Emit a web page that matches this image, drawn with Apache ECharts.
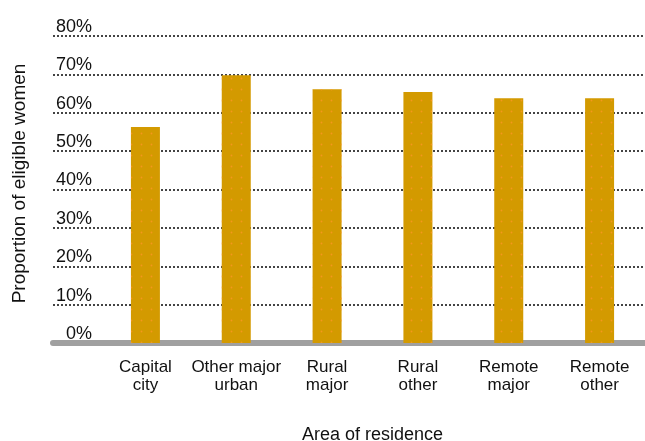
<!DOCTYPE html>
<html>
<head>
<meta charset="utf-8">
<script src="https://cdn.jsdelivr.net/npm/echarts@6/dist/echarts.min.js"></script>
<style>
  html, body { margin: 0; padding: 0; background: #fff; }
  #chart { width: 645px; height: 441px; }
</style>
</head>
<body>
<div id="chart"></div>
<script>
// Share of eligible women by area of residence
const categories = ['Capital\ncity', 'Other major\nurban', 'Rural\nmajor', 'Rural\nother', 'Remote\nmajor', 'Remote\nother'];
const proportions = [56.3, 69.8, 66.1, 65.4, 63.8, 63.8];
const yMin = 0, yMax = 80, yStep = 10;

const font = 'Liberation Sans, Arial, sans-serif';
const ink = '#111';

const chart = echarts.init(document.getElementById('chart'), null, { renderer: 'canvas' });

chart.setOption({
  animation: false,
  backgroundColor: '#fff',
  title: {
    text: 'Area of residence',
    left: 297,
    top: 421,
    textStyle: { fontFamily: font, fontSize: 18, fontWeight: 'normal', color: ink }
  },
  grid: [
    // frame: dotted gridlines + thick base line
    { left: 53, right: 0, top: 36, bottom: 98 },
    // bars and labels
    { left: 100, width: 547, top: 36, bottom: 98 }
  ],
  xAxis: [
    {
      gridIndex: 0, type: 'value', min: 0, max: 1,
      axisLine: { show: true, onZero: false, lineStyle: { color: '#a0a0a0', width: 6 } },
      axisTick: { show: false }, axisLabel: { show: false }, splitLine: { show: false }
    },
    {
      gridIndex: 1, type: 'category', data: categories,
      axisLine: { show: false }, axisTick: { show: false },
      axisLabel: {
        margin: 15, fontFamily: font, fontSize: 17, lineHeight: 18, color: ink,
        interval: 0, align: 'center'
      }
    }
  ],
  yAxis: [
    {
      gridIndex: 0, type: 'value', min: yMin, max: yMax, interval: yStep,
      name: 'Proportion of eligible women',
      nameLocation: 'middle', nameGap: 24, nameRotate: 90,
      nameTextStyle: { fontFamily: font, fontSize: 19, color: ink, padding: [0, 0, 0, 12] },
      axisLine: { show: false }, axisTick: { show: false }, axisLabel: { show: false },
      splitLine: { show: true, lineStyle: { color: '#444', width: 2, type: 'dotted' } }
    },
    {
      gridIndex: 1, type: 'value', min: yMin, max: yMax, interval: yStep,
      axisLine: { show: false }, axisTick: { show: false }, splitLine: { show: false },
      axisLabel: {
        margin: 8, fontFamily: font, fontSize: 18, color: ink,
        align: 'right', verticalAlign: 'bottom', lineHeight: 18,
        formatter: v => v + '%'
      }
    }
  ],
  series: [
    {
      type: 'bar',
      xAxisIndex: 1, yAxisIndex: 1,
      data: proportions,
      barWidth: 29,
      itemStyle: {
        color: '#d39a00',
        decal: {
          symbol: 'circle',
          symbolSize: 0.6,
          dashArrayX: [3, 7],
          dashArrayY: [3, 8],
          color: 'rgba(255,150,40,0.75)',
          rotation: 0
        }
      }
    }
  ]
});
</script>
</body>
</html>
